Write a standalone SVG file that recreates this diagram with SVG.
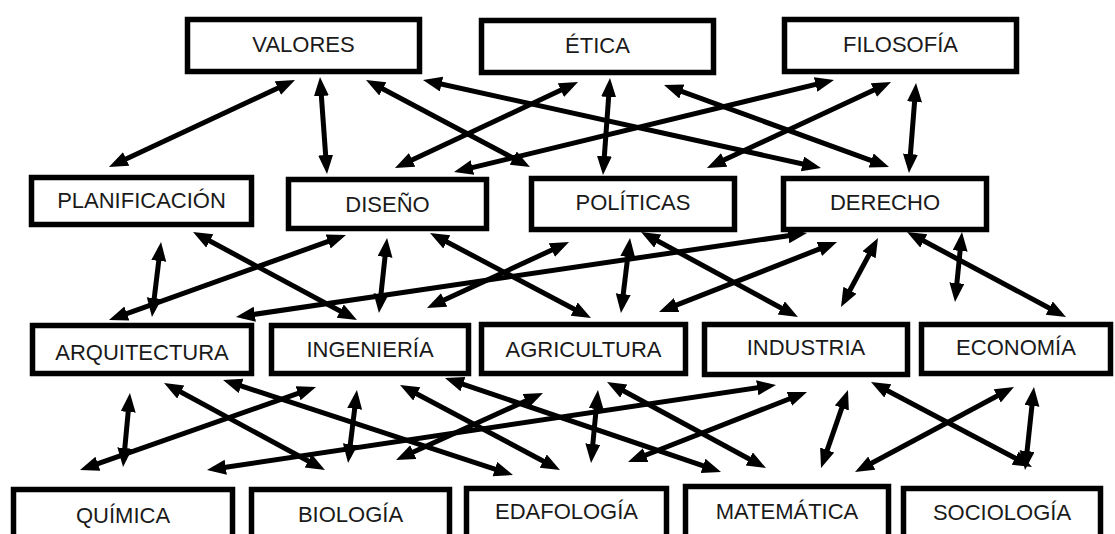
<svg xmlns="http://www.w3.org/2000/svg" width="1115" height="534" viewBox="0 0 1115 534">
<style>
.box{fill:#fff;stroke:#000;stroke-width:5.5}
.lbl{font-family:"Liberation Sans",Arial,sans-serif;font-size:22px;fill:#1a1a1a;text-anchor:middle}
.arr{stroke:#000;stroke-width:5;fill:none;marker-start:url(#ah);marker-end:url(#ah)}
</style>
<defs>
<marker id="ah" markerUnits="userSpaceOnUse" markerWidth="20" markerHeight="16" refX="12" refY="7.5" orient="auto-start-reverse">
<path d="M0,0 L19,7.5 L0,15 z" fill="#000"/>
</marker>
</defs>
<rect width="1115" height="534" fill="#fff"/>
<g id="valores"><rect class="box" x="187.5" y="19.5" width="232" height="52"/><text class="lbl" x="303.5" y="52">VALORES</text></g>
<g id="etica"><rect class="box" x="481.5" y="20.5" width="232" height="52"/><text class="lbl" x="597.5" y="53">ÉTICA</text></g>
<g id="filosofia"><rect class="box" x="784.5" y="19.5" width="232" height="52"/><text class="lbl" x="900.5" y="52">FILOSOFÍA</text></g>
<g id="planificacion"><rect class="box" x="31.5" y="177.5" width="220" height="47"/><text class="lbl" x="141.5" y="208">PLANIFICACIÓN</text></g>
<g id="diseno"><rect class="box" x="288.5" y="179.5" width="198" height="49"/><text class="lbl" x="387.5" y="212">DISEÑO</text></g>
<g id="politicas"><rect class="box" x="531.5" y="178.5" width="203" height="51"/><text class="lbl" x="633" y="210">POLÍTICAS</text></g>
<g id="derecho"><rect class="box" x="783.5" y="178.5" width="203" height="51"/><text class="lbl" x="885" y="210">DERECHO</text></g>
<g id="arquitectura"><rect class="box" x="32.5" y="325.5" width="219" height="48"/><text class="lbl" x="142" y="360">ARQUITECTURA</text></g>
<g id="ingenieria"><rect class="box" x="271.5" y="325.5" width="197" height="48"/><text class="lbl" x="370" y="357">INGENIERÍA</text></g>
<g id="agricultura"><rect class="box" x="481.5" y="324.5" width="204" height="49"/><text class="lbl" x="583.5" y="357">AGRICULTURA</text></g>
<g id="industria"><rect class="box" x="704.5" y="324.5" width="203" height="50"/><text class="lbl" x="806" y="355">INDUSTRIA</text></g>
<g id="economia"><rect class="box" x="921.5" y="324.5" width="189" height="49"/><text class="lbl" x="1016" y="355">ECONOMÍA</text></g>
<g id="quimica"><rect class="box" x="13.5" y="489.5" width="219" height="60"/><text class="lbl" x="123" y="523">QUÍMICA</text></g>
<g id="biologia"><rect class="box" x="251.5" y="489.5" width="198" height="60"/><text class="lbl" x="350.5" y="522">BIOLOGÍA</text></g>
<g id="edafologia"><rect class="box" x="466.5" y="488.5" width="200" height="60"/><text class="lbl" x="566.5" y="519">EDAFOLOGÍA</text></g>
<g id="matematica"><rect class="box" x="685.5" y="486.5" width="203" height="60"/><text class="lbl" x="787" y="519">MATEMÁTICA</text></g>
<g id="sociologia"><rect class="box" x="903.5" y="488.5" width="197" height="60"/><text class="lbl" x="1002" y="520">SOCIOLOGÍA</text></g>
<g id="connectors">
<line class="arr" x1="288.7" y1="83" x2="115.3" y2="164"/>
<line class="arr" x1="320.5" y1="84" x2="326.5" y2="167"/>
<line class="arr" x1="372.2" y1="83.3" x2="523.8" y2="163.7"/>
<line class="arr" x1="429.8" y1="81.5" x2="814.2" y2="166.5"/>
<line class="arr" x1="571.7" y1="85" x2="401.3" y2="165"/>
<line class="arr" x1="827.2" y1="81.6" x2="460.8" y2="170.4"/>
<line class="arr" x1="609.5" y1="85" x2="603.5" y2="168"/>
<line class="arr" x1="670.6" y1="87.4" x2="882.4" y2="164.6"/>
<line class="arr" x1="884.7" y1="85" x2="713.3" y2="165"/>
<line class="arr" x1="915.5" y1="90" x2="909.5" y2="166"/>
<line class="arr" x1="160.2" y1="249" x2="152.8" y2="310"/>
<line class="arr" x1="199.2" y1="235.3" x2="350.8" y2="316.7"/>
<line class="arr" x1="339.4" y1="237.4" x2="115.6" y2="317.6"/>
<line class="arr" x1="386.3" y1="245" x2="379.7" y2="306"/>
<line class="arr" x1="436.2" y1="236.3" x2="584.8" y2="314.7"/>
<line class="arr" x1="800.1" y1="234" x2="242.9" y2="316"/>
<line class="arr" x1="562.7" y1="244.9" x2="433.3" y2="305.1"/>
<line class="arr" x1="629.2" y1="245" x2="621.8" y2="306"/>
<line class="arr" x1="647.2" y1="235.3" x2="791.8" y2="313.7"/>
<line class="arr" x1="830.5" y1="244.6" x2="665.5" y2="309.4"/>
<line class="arr" x1="874.7" y1="244.2" x2="844.3" y2="300.8"/>
<line class="arr" x1="961.3" y1="239" x2="955.7" y2="295"/>
<line class="arr" x1="913.2" y1="235.3" x2="1059.8" y2="313.7"/>
<line class="arr" x1="129.3" y1="400" x2="123.7" y2="460"/>
<line class="arr" x1="170.2" y1="386.3" x2="318.8" y2="466.7"/>
<line class="arr" x1="229.7" y1="382.2" x2="506.3" y2="472.8"/>
<line class="arr" x1="309.4" y1="389.3" x2="86.6" y2="467.7"/>
<line class="arr" x1="356.1" y1="396.9" x2="348.9" y2="456.1"/>
<line class="arr" x1="406.2" y1="388.3" x2="553.8" y2="466.7"/>
<line class="arr" x1="451.6" y1="380.3" x2="714.4" y2="469.7"/>
<line class="arr" x1="213.9" y1="469" x2="769.1" y2="386"/>
<line class="arr" x1="402.4" y1="457.1" x2="536.6" y2="395.9"/>
<line class="arr" x1="597.3" y1="397" x2="591.7" y2="456"/>
<line class="arr" x1="613.2" y1="385.3" x2="759.8" y2="464.7"/>
<line class="arr" x1="800.5" y1="394.5" x2="634.5" y2="459.5"/>
<line class="arr" x1="845.7" y1="396.6" x2="823.3" y2="461.4"/>
<line class="arr" x1="1007.8" y1="390.3" x2="861.2" y2="468.7"/>
<line class="arr" x1="877.2" y1="385.3" x2="1025.8" y2="463.7"/>
<line class="arr" x1="1033.2" y1="394" x2="1025.8" y2="463"/>
</g>
</svg>
